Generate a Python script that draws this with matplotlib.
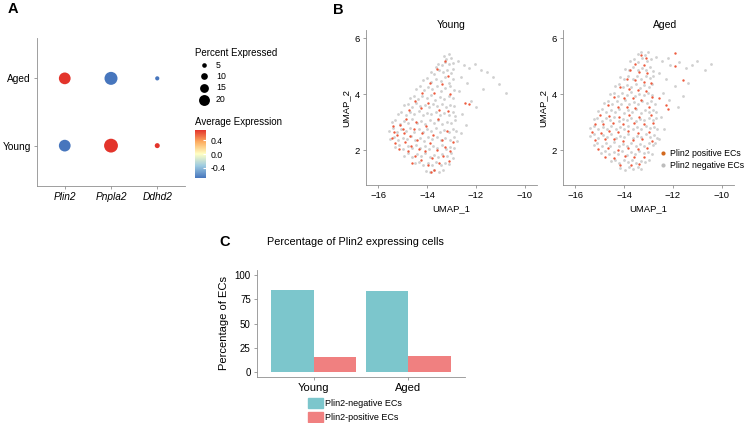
import matplotlib.pyplot as plt
import matplotlib.colors as mcolors
import numpy as np
from matplotlib.patches import Rectangle

plt.rcParams["font.family"] = ["Liberation Sans", "DejaVu Sans"]

W, H = 746, 423

# ---- panel A: dot plot ----
genes = ["Plin2", "Pnpla2", "Ddhd2"]
groups = ["Young", "Aged"]
pct_young = [22, 27, 6]
pct_aged = [22, 25, 4]
avg_young = [-0.707, 0.707, 0.707]
avg_aged = [0.707, -0.707, -0.707]
size_breaks = [5, 10, 15, 20]

# ---- panel B: UMAP ----
young_neg = [
    (-13.30, 5.38), (-13.12, 5.44), (-13.02, 5.30), (-13.22, 5.25),
    (-13.55, 5.10), (-13.40, 5.05), (-13.25, 5.15), (-13.10, 5.08), (-12.95, 5.12), (-13.62, 4.98),
    (-13.85, 4.80), (-13.70, 4.72), (-13.52, 4.85), (-13.35, 4.78), (-13.18, 4.88), (-13.02, 4.75), (-12.92, 4.90),
    (-14.15, 4.50), (-14.00, 4.58), (-13.82, 4.45), (-13.64, 4.55), (-13.45, 4.48), (-13.28, 4.60), (-13.12, 4.42),
    (-12.95, 4.55),
    (-14.45, 4.20), (-14.30, 4.28), (-14.12, 4.15), (-13.95, 4.25), (-13.78, 4.18), (-13.60, 4.30), (-13.42, 4.12),
    (-13.25, 4.22), (-13.08, 4.30), (-12.90, 4.15),
    (-14.70, 3.88), (-14.55, 3.95), (-14.38, 3.82), (-14.20, 3.92), (-14.02, 3.85), (-13.85, 3.98), (-13.66, 3.80),
    (-13.48, 3.90), (-13.30, 3.84), (-13.12, 3.95), (-12.95, 3.86),
    (-14.95, 3.60), (-14.80, 3.66), (-14.62, 3.55), (-14.45, 3.68), (-14.28, 3.58), (-14.10, 3.62), (-13.92, 3.54),
    (-13.75, 3.66), (-13.58, 3.58), (-13.40, 3.64), (-13.22, 3.55), (-13.05, 3.62), (-12.88, 3.58),
    (-15.20, 3.30), (-15.05, 3.38), (-14.88, 3.26), (-14.70, 3.35), (-14.52, 3.28), (-14.35, 3.40), (-14.18, 3.25),
    (-14.00, 3.34), (-13.82, 3.28), (-13.65, 3.38), (-13.48, 3.24), (-13.30, 3.32), (-13.12, 3.26), (-12.95, 3.36),
    (-12.85, 3.22),
    (-15.45, 3.00), (-15.30, 3.08), (-15.12, 2.95), (-14.95, 3.05), (-14.78, 2.98), (-14.60, 3.10), (-14.42, 2.96),
    (-14.25, 3.04), (-14.08, 2.94), (-13.90, 3.06), (-13.72, 2.98), (-13.55, 3.08), (-13.38, 2.95), (-13.20, 3.02),
    (-13.02, 2.96), (-12.85, 3.06),
    (-15.55, 2.70), (-15.40, 2.78), (-15.22, 2.65), (-15.05, 2.75), (-14.88, 2.68), (-14.70, 2.80), (-14.52, 2.66),
    (-14.35, 2.74), (-14.18, 2.64), (-14.00, 2.76), (-13.82, 2.68), (-13.65, 2.78), (-13.48, 2.65), (-13.30, 2.72),
    (-13.12, 2.66), (-12.95, 2.76), (-12.80, 2.68),
    (-15.50, 2.40), (-15.35, 2.48), (-15.18, 2.35), (-15.00, 2.45), (-14.82, 2.38), (-14.65, 2.50), (-14.48, 2.36),
    (-14.30, 2.44), (-14.12, 2.34), (-13.95, 2.46), (-13.78, 2.38), (-13.60, 2.48), (-13.42, 2.35), (-13.25, 2.42),
    (-13.08, 2.36), (-12.90, 2.46), (-12.78, 2.34),
    (-15.30, 2.10), (-15.15, 2.18), (-14.98, 2.05), (-14.80, 2.15), (-14.62, 2.08), (-14.45, 2.20), (-14.28, 2.06),
    (-14.10, 2.14), (-13.92, 2.04), (-13.75, 2.16), (-13.58, 2.08), (-13.40, 2.18), (-13.22, 2.05), (-13.05, 2.12),
    (-12.88, 2.06),
    (-14.95, 1.80), (-14.78, 1.88), (-14.60, 1.76), (-14.42, 1.85), (-14.25, 1.78), (-14.08, 1.90), (-13.90, 1.76),
    (-13.72, 1.84), (-13.55, 1.74), (-13.38, 1.86), (-13.20, 1.78), (-13.02, 1.88), (-12.92, 1.72),
    (-14.50, 1.52), (-14.32, 1.58), (-14.15, 1.46), (-13.98, 1.55), (-13.80, 1.48), (-13.62, 1.58), (-13.45, 1.45),
    (-13.28, 1.54), (-13.10, 1.50),
    (-14.05, 1.25), (-13.88, 1.20), (-13.70, 1.28), (-13.52, 1.22), (-13.35, 1.30),
    (-12.75, 5.20), (-12.50, 5.05), (-12.30, 4.95), (-12.05, 5.10), (-11.80, 4.85), (-11.55, 4.80), (-11.30, 4.60),
    (-11.05, 4.35), (-10.75, 4.05), (-12.60, 4.60), (-12.35, 4.40), (-12.20, 3.75), (-12.00, 3.55), (-12.55, 3.30),
    (-12.40, 2.90), (-12.60, 2.60), (-11.70, 4.20), (-12.70, 4.10),
]
young_pos = [
    (-13.25, 5.20), (-13.60, 4.90), (-13.15, 4.65), (-13.90, 4.40), (-13.40, 4.35), (-14.20, 4.05), (-13.70, 4.05),
    (-13.05, 4.00), (-14.50, 3.75), (-13.95, 3.70), (-13.50, 3.45), (-14.75, 3.45), (-14.25, 3.50), (-13.15, 3.40),
    (-12.45, 3.70), (-12.30, 3.65),
    (-15.40, 2.85), (-15.25, 2.55), (-15.10, 2.90), (-15.45, 2.45), (-15.30, 2.25), (-15.15, 2.05), (-14.95, 2.60),
    (-14.90, 2.30), (-14.80, 1.95), (-14.70, 2.50), (-14.65, 2.15), (-14.55, 2.75), (-14.50, 1.80), (-14.40, 2.35),
    (-14.35, 2.05), (-14.25, 1.65), (-14.20, 2.60), (-14.10, 1.95), (-14.05, 2.85), (-13.95, 1.45), (-13.90, 2.25),
    (-13.80, 1.70), (-13.75, 2.55), (-13.70, 1.30), (-13.60, 2.00), (-13.55, 3.10), (-13.50, 1.55), (-13.40, 2.35),
    (-13.35, 1.80), (-13.25, 2.10), (-13.20, 2.70), (-13.10, 1.60), (-13.05, 1.95), (-12.95, 2.30), (-14.85, 3.10),
    (-14.45, 3.00), (-13.85, 1.20), (-14.60, 1.55), (-15.00, 2.75), (-15.35, 2.65),
]
aged_neg = [
    (-13.45, 5.45), (-13.30, 5.52), (-13.15, 5.42), (-13.02, 5.50),
    (-13.75, 5.18), (-13.58, 5.25), (-13.42, 5.15), (-13.25, 5.28), (-13.08, 5.20), (-12.90, 5.25),
    (-13.95, 4.92), (-13.80, 4.85), (-13.62, 4.98), (-13.45, 4.88), (-13.28, 4.95), (-13.10, 4.86), (-12.92, 4.96),
    (-12.82, 4.84),
    (-14.15, 4.62), (-14.00, 4.55), (-13.82, 4.66), (-13.65, 4.56), (-13.48, 4.64), (-13.30, 4.54), (-13.12, 4.66),
    (-12.95, 4.58), (-12.82, 4.65),
    (-14.38, 4.30), (-14.22, 4.36), (-14.05, 4.25), (-13.88, 4.34), (-13.70, 4.26), (-13.52, 4.38), (-13.35, 4.24),
    (-13.18, 4.32), (-13.00, 4.26), (-12.84, 4.36),
    (-14.58, 4.00), (-14.42, 4.06), (-14.25, 3.95), (-14.08, 4.04), (-13.90, 3.96), (-13.72, 4.08), (-13.55, 3.94),
    (-13.38, 4.02), (-13.20, 3.96), (-13.02, 4.06), (-12.85, 3.98),
    (-14.82, 3.70), (-14.65, 3.76), (-14.48, 3.65), (-14.30, 3.74), (-14.12, 3.66), (-13.95, 3.78), (-13.78, 3.64),
    (-13.60, 3.72), (-13.42, 3.66), (-13.25, 3.76), (-13.08, 3.68), (-12.90, 3.74), (-12.75, 3.66),
    (-15.05, 3.40), (-14.90, 3.46), (-14.72, 3.35), (-14.55, 3.44), (-14.38, 3.36), (-14.20, 3.48), (-14.02, 3.34),
    (-13.85, 3.42), (-13.68, 3.36), (-13.50, 3.46), (-13.32, 3.34), (-13.15, 3.42), (-12.98, 3.36), (-12.80, 3.44),
    (-12.68, 3.38),
    (-15.25, 3.10), (-15.10, 3.16), (-14.92, 3.05), (-14.75, 3.14), (-14.58, 3.06), (-14.40, 3.18), (-14.22, 3.04),
    (-14.05, 3.12), (-13.88, 3.06), (-13.70, 3.16), (-13.52, 3.04), (-13.35, 3.12), (-13.18, 3.06), (-13.00, 3.16),
    (-12.82, 3.08), (-12.68, 3.14),
    (-15.38, 2.80), (-15.22, 2.86), (-15.05, 2.75), (-14.88, 2.84), (-14.70, 2.76), (-14.52, 2.88), (-14.35, 2.74),
    (-14.18, 2.82), (-14.00, 2.76), (-13.82, 2.86), (-13.65, 2.74), (-13.48, 2.82), (-13.30, 2.76), (-13.12, 2.86),
    (-12.95, 2.78), (-12.78, 2.84), (-12.66, 2.74),
    (-15.38, 2.50), (-15.22, 2.56), (-15.05, 2.45), (-14.88, 2.54), (-14.70, 2.46), (-14.52, 2.58), (-14.35, 2.44),
    (-14.18, 2.52), (-14.00, 2.46), (-13.82, 2.56), (-13.65, 2.44), (-13.48, 2.52), (-13.30, 2.46), (-13.12, 2.56),
    (-12.95, 2.48), (-12.78, 2.54), (-12.66, 2.44),
    (-15.25, 2.20), (-15.10, 2.26), (-14.92, 2.15), (-14.75, 2.24), (-14.58, 2.16), (-14.40, 2.28), (-14.22, 2.14),
    (-14.05, 2.22), (-13.88, 2.16), (-13.70, 2.26), (-13.52, 2.14), (-13.35, 2.22), (-13.18, 2.16), (-13.00, 2.26),
    (-12.82, 2.18), (-12.72, 2.24),
    (-14.95, 1.90), (-14.78, 1.96), (-14.60, 1.85), (-14.42, 1.94), (-14.25, 1.86), (-14.08, 1.98), (-13.90, 1.84),
    (-13.72, 1.92), (-13.55, 1.86), (-13.38, 1.96), (-13.20, 1.88), (-13.02, 1.94), (-12.85, 1.86),
    (-14.55, 1.60), (-14.38, 1.66), (-14.20, 1.55), (-14.02, 1.64), (-13.85, 1.56), (-13.68, 1.66), (-13.50, 1.54),
    (-13.32, 1.62), (-13.15, 1.58), (-13.00, 1.66),
    (-14.15, 1.35), (-13.98, 1.30), (-13.80, 1.38), (-13.62, 1.32), (-13.45, 1.40), (-13.30, 1.34),
    (-12.70, 5.35), (-12.45, 5.20), (-12.20, 5.30), (-12.10, 5.05), (-11.75, 5.15), (-11.45, 4.95), (-11.20, 5.05),
    (-11.00, 5.20), (-10.70, 4.85), (-10.45, 5.10), (-12.55, 4.75), (-12.30, 4.55), (-11.90, 4.30), (-11.40, 4.40),
    (-12.40, 4.05), (-12.15, 3.80), (-11.80, 3.55), (-12.50, 3.20), (-12.35, 2.75), (-12.55, 2.40), (-11.60, 3.95),
]
aged_pos = [
    (-13.30, 5.40), (-13.10, 5.30), (-13.55, 5.10), (-13.20, 5.05), (-13.75, 4.85), (-13.40, 4.80), (-13.05, 4.75),
    (-13.90, 4.55), (-13.55, 4.50), (-13.20, 4.45), (-12.90, 4.40), (-14.15, 4.25), (-13.80, 4.20), (-13.45, 4.15),
    (-13.10, 4.10), (-14.40, 3.90), (-14.00, 3.85), (-13.65, 3.85), (-13.30, 3.80), (-12.85, 3.90), (-14.65, 3.60),
    (-14.25, 3.55), (-13.90, 3.55), (-13.55, 3.50), (-13.00, 3.55),
    (-15.00, 3.25), (-14.60, 3.22), (-14.20, 3.20), (-13.80, 3.27), (-13.40, 3.18), (-12.90, 3.25), (-15.20, 2.95),
    (-14.85, 2.92), (-14.45, 2.97), (-14.05, 2.93), (-13.60, 2.98), (-13.20, 2.94), (-12.80, 2.96), (-15.30, 2.65),
    (-14.95, 2.62), (-14.60, 2.70), (-14.25, 2.63), (-13.85, 2.67), (-13.45, 2.61), (-13.00, 2.66), (-15.20, 2.35),
    (-14.80, 2.38), (-14.40, 2.40), (-14.05, 2.32), (-13.65, 2.37), (-13.25, 2.40), (-12.85, 2.33), (-15.05, 2.05),
    (-14.65, 2.08), (-14.25, 2.02), (-13.85, 2.07), (-13.45, 2.03), (-13.05, 2.06), (-14.80, 1.75), (-14.40, 1.72),
    (-13.95, 1.78), (-13.60, 1.74), (-13.20, 1.77), (-14.15, 1.45), (-13.70, 1.47), (-13.40, 1.50),
    (-11.90, 5.46), (-11.90, 5.00), (-11.60, 4.50), (-12.30, 3.60), (-12.20, 3.46), (-12.55, 3.85),
]

# ---- panel C: bar chart ----
bar_groups = ["Young", "Aged"]
pct_negative = [84.5, 83.5]
pct_positive = [15.5, 16.5]

C_NEG = "#7CC6CC"
C_POS = "#F08080"
GREY_PT = "#D0D0D0"
RED_PT = "#EE5B3E"
AXIS_C = "#8f8f8f"


def fx(px):
    return px / W


def fy(py):
    return 1 - py / H


def dot_s(pct):
    d_px = 2.5 + 0.42 * pct
    return (d_px * 0.72) ** 2


fig = plt.figure(figsize=(W / 100, H / 100), dpi=100)

# panel A
cmap = mcolors.LinearSegmentedColormap.from_list(
    "rdylbu", ["#4776BD", "#9CCAE1", "#FFFFC4", "#FDAE61", "#E3342B"]
)
norm = mcolors.Normalize(-0.707, 0.707)

axA = fig.add_axes([fx(37), fy(186), fx(148), 148 / H])
for yi, (pcts, avgs) in enumerate([(pct_young, avg_young), (pct_aged, avg_aged)]):
    axA.scatter(np.arange(1, 4), [yi + 1] * 3, s=[dot_s(p) for p in pcts],
                c=avgs, cmap=cmap, norm=norm, linewidths=0)
axA.set_xlim(0.4, 3.6)
axA.set_ylim(0.4, 2.6)
axA.set_xticks([1, 2, 3])
axA.set_xticklabels(genes, style="italic", fontsize=7.3)
axA.set_yticks([1, 2])
axA.set_yticklabels(groups, fontsize=7.3)

# panel B
axY = fig.add_axes([fx(366), fy(185), fx(171), 155 / H])
axO = fig.add_axes([fx(563), fy(185), fx(171), 155 / H])
for ax, neg, pos in [(axY, young_neg, young_pos), (axO, aged_neg, aged_pos)]:
    nx, ny = zip(*neg)
    rx, ry = zip(*pos)
    ax.scatter(nx, ny, s=4.0, color=GREY_PT, linewidths=0)
    ax.scatter(rx, ry, s=3.0, color=RED_PT, linewidths=0)
    ax.set_xlim(-16.5, -9.5)
    ax.set_ylim(0.75, 6.3)
    ax.set_xticks([-16, -14, -12, -10])
    ax.set_yticks([2, 4, 6])
    ax.tick_params(labelsize=6.8)
    ax.set_ylabel("UMAP_2", fontsize=6.8, labelpad=3)
axY.set_xlabel("UMAP_1", fontsize=6.8, labelpad=3)
axO.set_xlabel("UMAP_1", fontsize=6.8, labelpad=3)

# panel C
axC = fig.add_axes([fx(257), fy(377), fx(208), 107 / H])
xc = np.arange(1, len(bar_groups) + 1)
axC.bar(xc - 0.225, pct_negative, width=0.45, color=C_NEG)
axC.bar(xc + 0.225, pct_positive, width=0.45, color=C_POS)
axC.set_xlim(0.4, 2.6)
axC.set_ylim(-5, 105)
axC.set_xticks(xc)
axC.set_xticklabels(bar_groups, fontsize=8)
axC.set_yticks([0, 25, 50, 75, 100])
axC.tick_params(axis="y", labelsize=7)
axC.set_ylabel("Percentage of ECs", fontsize=8, labelpad=4)

for ax in [axA, axY, axO, axC]:
    for side in ["top", "right"]:
        ax.spines[side].set_visible(False)
    for side in ["left", "bottom"]:
        ax.spines[side].set_color(AXIS_C)
        ax.spines[side].set_linewidth(0.6)
    ax.tick_params(color=AXIS_C, length=2.5, width=0.6, pad=2, labelcolor="black")
    ax.set_facecolor("none")

# legends / annotations in pixel space
ov = fig.add_axes([0, 0, 1, 1])
ov.set_xlim(0, W)
ov.set_ylim(H, 0)
ov.axis("off")

ov.text(8, 9, "A", fontsize=10.5, fontweight="bold", va="center")
ov.text(333, 10, "B", fontsize=10.5, fontweight="bold", va="center")
ov.text(219, 242, "C", fontsize=10.5, fontweight="bold", va="center")

ov.text(195, 53, "Percent Expressed", fontsize=7, va="center")
for yy, b in zip([65.5, 76.5, 88, 100], size_breaks):
    ov.scatter([204], [yy], s=dot_s(b), color="black", linewidths=0)
    ov.text(216, yy, str(b), fontsize=6.3, va="center")
ov.text(195, 122, "Average Expression", fontsize=7, va="center")

cax = fig.add_axes([fx(195), fy(178), fx(11), 48 / H])
cb = fig.colorbar(plt.cm.ScalarMappable(norm=norm, cmap=cmap), cax=cax)
cb.outline.set_visible(False)
cb.set_ticks([-0.4, 0.0, 0.4])
cb.set_ticklabels(["-0.4", "0.0", "0.4"])
cax.tick_params(labelsize=6.3, length=2, color="white", pad=3, direction="in")

ov.text(451, 25, "Young", fontsize=7.5, ha="center", va="center")
ov.text(665, 25, "Aged", fontsize=7.5, ha="center", va="center")
ov.scatter([663], [153], s=9, color="#D2691E", linewidths=0)
ov.text(670, 153, "Plin2 positive ECs", fontsize=6.3, va="center")
ov.scatter([663], [165.5], s=9, color="#BDBDBD", linewidths=0)
ov.text(670, 165.5, "Plin2 negative ECs", fontsize=6.3, va="center")

ov.text(355, 242, "Percentage of Plin2 expressing cells", fontsize=7.8,
        ha="center", va="center")
ov.add_patch(Rectangle((308, 398), 15, 10, color=C_NEG))
ov.add_patch(Rectangle((308, 412), 15, 10, color=C_POS))
ov.text(325, 403, "Plin2-negative ECs", fontsize=6.5, va="center")
ov.text(325, 417, "Plin2-positive ECs", fontsize=6.5, va="center")

fig.savefig("out.png", dpi=100)
